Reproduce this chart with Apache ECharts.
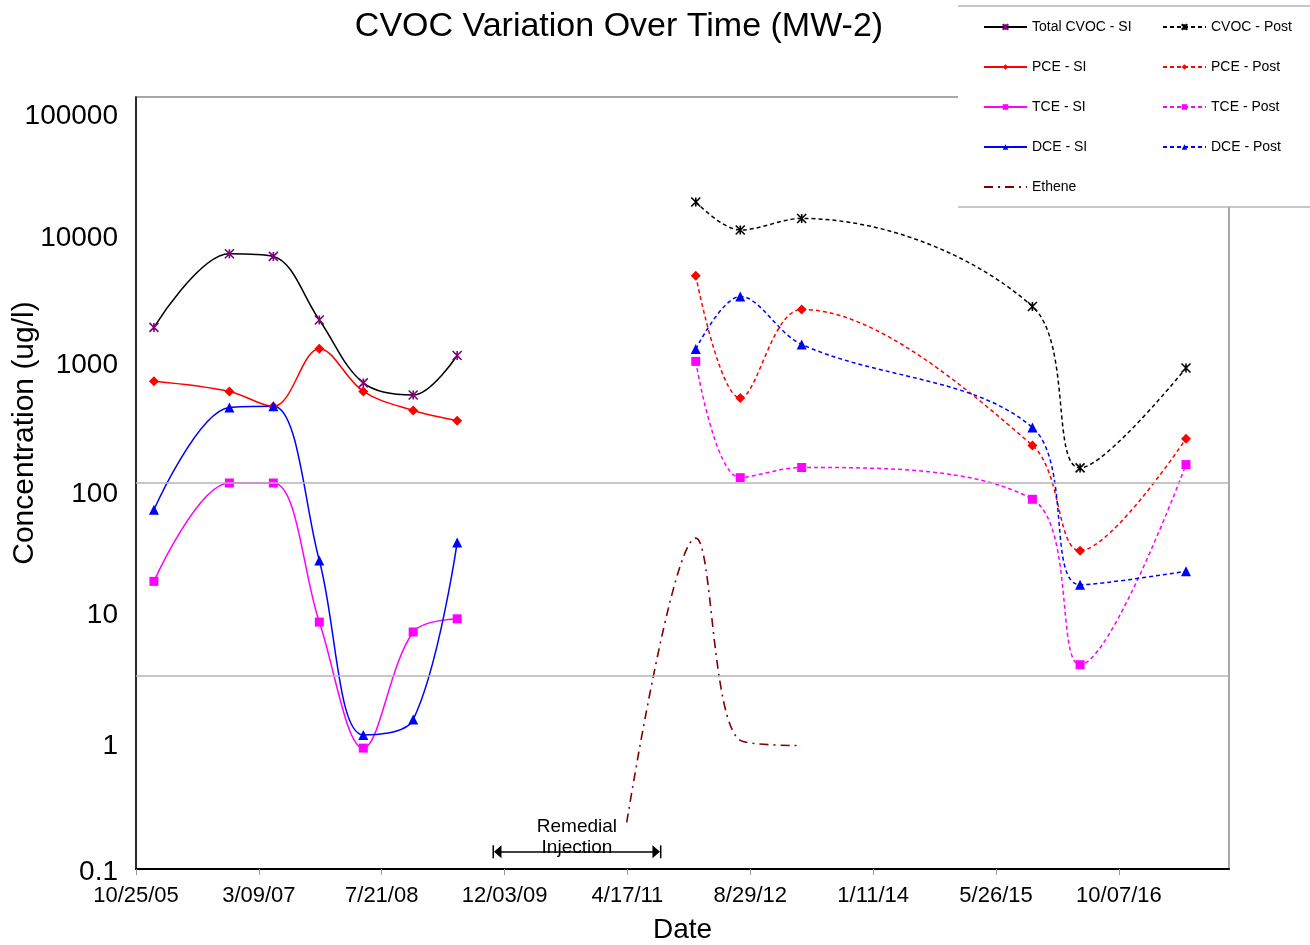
<!DOCTYPE html>
<html>
<head>
<meta charset="utf-8">
<script src="https://cdn.jsdelivr.net/npm/echarts@6/dist/echarts.min.js"></script>
<style>html,body{margin:0;padding:0;background:#fff}#c{width:1310px;height:945px}</style>
</head>
<body>
<div id="c"></div>
<script>
// ---------------- DATA ----------------
const origin = '2005-10-25';                 // x-axis start date
const siDates = ['2006-01-06','2006-11-09','2007-05-07','2007-11-10','2008-05-07','2008-11-26','2009-05-24'];
const totalCvocSI = [1620, 6050, 5770, 1850, 600, 483, 980];
const pceSI       = [617, 515, 394, 1107, 515, 366, 305];
const tceSI       = [17.2, 100, 100, 8.3, 0.87, 6.95, 8.8];
const dceSI       = [62, 387, 395, 25, 1.1, 1.45, 34.5];

const postDates = ['2012-01-20','2012-07-19','2013-03-26','2015-10-21','2016-05-02','2017-07-07'];
const cvocPost  = [15270, 9250, 11380, 2355, 131, 783];
const pcePost   = [4080, 458, 2235, 196, 29.8, 221];
const tcePost   = [881, 110, 132, 74.7, 3.87, 139];
const dcePost   = [1099, 2820, 1194, 270, 16.2, 20.6];

const etheneDates = ['2011-04-14','2012-01-20','2012-07-19','2013-03-26'];
const ethene      = [0.23, 37.3, 1.0, 0.91];

const injection = {start: '2009-11-02', end: '2011-08-15', level: 0.136, label: 'Remedial\nInjection'};
const gridValues = [100, 3.16];
const xMaxDays = 4448;
const xStepDays = 500;

// ---------------- HELPERS ----------------
function toDays(s){
  const p = s.split('-').map(Number), o = origin.split('-').map(Number);
  return (Date.UTC(p[0],p[1]-1,p[2]) - Date.UTC(o[0],o[1]-1,o[2]))/86400000;
}
function pairs(dates, vals){ return dates.map((d,i)=>[toDays(d), vals[i]]); }
function fmtDate(v){
  const o = origin.split('-').map(Number);
  const d = new Date(Date.UTC(o[0],o[1]-1,o[2]) + Math.round(v)*86400000);
  const m = d.getUTCMonth()+1, dd = d.getUTCDate(), yy = d.getUTCFullYear()%100;
  return m + '/' + String(dd).padStart(2,'0') + '/' + String(yy).padStart(2,'0');
}
const FONT = 'Liberation Sans, Arial, sans-serif';
const ASTER = 'path://M0 0L10 10M10 0L0 10M5 0L5 10';
const ENDSYM = 'path://M0 0H12V2H0Z M6 2L12 12L0 12Z';
const SMOOTH = 0.35;

// per-label vertical nudge (reference labels sit slightly below their decades)
const labelNudge = {'100000':19,'10000':13,'1000':11,'100':11,'10':4,'1':6,'0.1':3};
const richY = {};
const nudgeKeys = Object.keys(labelNudge);
nudgeKeys.forEach((k,i)=>{ richY['n'+i] = {fontSize:28, fontFamily:FONT, color:'#000', padding:[labelNudge[k]*2,0,0,0]}; });

function lineSeries(name, data, opt){
  return Object.assign({
    name, type:'line', data, smooth:SMOOTH, showSymbol:true,
    emphasis:{disabled:true}, animation:false, z:3
  }, opt);
}

const series = [
  lineSeries('Total CVOC - SI', pairs(siDates,totalCvocSI), {
    symbol:ASTER, symbolSize:9,
    lineStyle:{color:'#000', width:1.5},
    itemStyle:{color:'#800080', borderColor:'#800080', borderWidth:1.6},
    markLine:{
      silent:true, symbol:'none', animation:false,
      lineStyle:{color:'#b4b4b4', width:1.5, type:'solid'},
      label:{show:false},
      data: gridValues.map(v=>({yAxis:v}))
    }
  }),
  lineSeries('PCE - SI', pairs(siDates,pceSI), {
    symbol:'diamond', symbolSize:10,
    lineStyle:{color:'#ff0000', width:1.5},
    itemStyle:{color:'#ff0000', borderWidth:0}
  }),
  lineSeries('TCE - SI', pairs(siDates,tceSI), {
    symbol:'rect', symbolSize:9,
    lineStyle:{color:'#ff00ff', width:1.5},
    itemStyle:{color:'#ff00ff', borderWidth:0}
  }),
  lineSeries('DCE - SI', pairs(siDates,dceSI), {
    symbol:'triangle', symbolSize:10,
    lineStyle:{color:'#0000ff', width:1.5},
    itemStyle:{color:'#0000ff', borderWidth:0}
  }),
  lineSeries('Ethene', pairs(etheneDates,ethene), {
    symbol:'none', showSymbol:false,
    lineStyle:{color:'#800000', width:1.6, type:[9,5,2,5]},
    itemStyle:{color:'#800000'},
    markLine:{
      silent:true, animation:false,
      symbol:[ENDSYM, ENDSYM], symbolSize:[13,9],
      lineStyle:{color:'#000', width:1.5, type:'solid'},
      label:{show:true, formatter:injection.label, position:'insideMiddleTop', distance:-6,
             color:'#000', fontSize:19, lineHeight:21, fontFamily:FONT},
      data:[[{coord:[toDays(injection.start), injection.level]},{coord:[toDays(injection.end), injection.level]}]]
    }
  }),
  lineSeries('CVOC - Post', pairs(postDates,cvocPost), {
    symbol:ASTER, symbolSize:9,
    lineStyle:{color:'#000', width:1.5, type:[4,3]},
    itemStyle:{color:'#000', borderColor:'#000', borderWidth:1.6}
  }),
  lineSeries('PCE - Post', pairs(postDates,pcePost), {
    symbol:'diamond', symbolSize:10,
    lineStyle:{color:'#ff0000', width:1.5, type:[4,3]},
    itemStyle:{color:'#ff0000', borderWidth:0}
  }),
  lineSeries('TCE - Post', pairs(postDates,tcePost), {
    symbol:'rect', symbolSize:9,
    lineStyle:{color:'#ff00ff', width:1.5, type:[4,3]},
    itemStyle:{color:'#ff00ff', borderWidth:0}
  }),
  lineSeries('DCE - Post', pairs(postDates,dcePost), {
    symbol:'triangle', symbolSize:10,
    lineStyle:{color:'#0000ff', width:1.5, type:[4,3]},
    itemStyle:{color:'#0000ff', borderWidth:0}
  })
];

const legendCommon = {
  orient:'vertical', itemWidth:43, itemHeight:7, itemGap:24,
  textStyle:{fontSize:14, fontFamily:FONT, color:'#000', lineHeight:16},
  selectedMode:false, z:100, backgroundColor:'transparent'
};

const chart = echarts.init(document.getElementById('c'), null, {renderer:'canvas'});
chart.setOption({
  backgroundColor:'#fff',
  animation:false,
  title:{
    text:'CVOC Variation Over Time (MW-2)', left:614, top:5, textAlign:'center',
    textStyle:{fontSize:34, fontWeight:'normal', fontFamily:FONT, color:'#000'}
  },
  grid:{left:136, top:97, right:81, bottom:76, show:true, borderColor:'#a8a8a8', borderWidth:2,
        backgroundColor:'transparent', containLabel:false, outerBoundsMode:'none'},
  legend:[
    Object.assign({}, legendCommon, {left:978, top:14,
      data:['Total CVOC - SI','PCE - SI','TCE - SI','DCE - SI',{name:'Ethene', itemStyle:{opacity:0}}]}),
    Object.assign({}, legendCommon, {left:1157, top:14,
      data:['CVOC - Post','PCE - Post','TCE - Post','DCE - Post']})
  ],
  xAxis:{
    type:'value', min:0, max:xMaxDays, interval:xStepDays,
    name:'Date', nameLocation:'middle', nameGap:47,
    nameTextStyle:{fontSize:28, fontFamily:FONT, color:'#000'},
    axisLine:{show:true, onZero:false, lineStyle:{color:'#000', width:2}},
    axisTick:{show:true, length:6, lineStyle:{color:'#999', width:1}},
    axisLabel:{formatter:fmtDate, showMaxLabel:false, fontSize:22, fontFamily:FONT, color:'#000', margin:16},
    splitLine:{show:false}
  },
  yAxis:{
    type:'log', logBase:10, min:0.1, max:100000,
    axisLine:{show:true, lineStyle:{color:'#000', width:1.5}},
    axisTick:{show:false},
    axisLabel:{
      margin:18,
      formatter:function(v){
        const s = String(+Number(v).toPrecision(6));
        const i = nudgeKeys.indexOf(s);
        return i >= 0 ? '{n'+i+'|'+s+'}' : '';
      },
      rich:richY, fontSize:28, fontFamily:FONT, color:'#000'
    },
    splitLine:{show:false}
  },
  graphic:[
    {type:'rect', z:90, shape:{x:958, y:6, width:360, height:201}, style:{fill:'#fff', stroke:null}},
    {type:'line', z:91, shape:{x1:958, y1:6, x2:1310, y2:6}, style:{stroke:'#b4b4b4', lineWidth:1.5}},
    {type:'line', z:91, shape:{x1:958, y1:207, x2:1310, y2:207}, style:{stroke:'#b4b4b4', lineWidth:1.5}},
    {type:'text', z:10, x:25, y:433, rotation:Math.PI/2,
     style:{text:'Concentration (ug/l)', fontSize:30, fontFamily:FONT, fill:'#000', align:'center', verticalAlign:'middle'}}
  ],
  series
});
</script>
</body>
</html>
